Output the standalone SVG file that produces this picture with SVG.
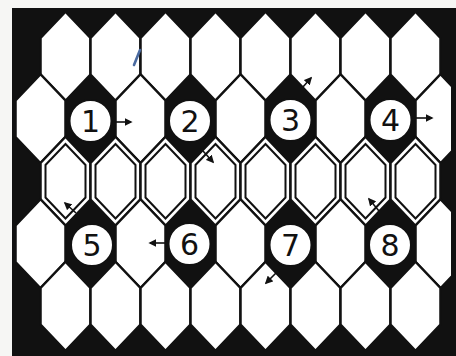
<svg xmlns="http://www.w3.org/2000/svg" xmlns:xlink="http://www.w3.org/1999/xlink" width="456" height="356" viewBox="0 0 456 356">
  <style>
    .hex { fill: #ffffff; stroke: #111111; stroke-width: 2.5; }
    .inner { fill: none; stroke: #111111; stroke-width: 2; }
    .disc { fill: #ffffff; stroke: #111111; stroke-width: 2; }
    .num { font-family: "DejaVu Sans", "Liberation Sans", sans-serif; font-size: 30px; fill: #111111; text-anchor: middle; }
    .arrow { stroke: #111111; stroke-width: 1.6; fill: none; marker-end: url(#head); }
  </style>
  <defs>
    <polygon id="h" points="0,-44.5 25,-18.25 25,18.25 0,44.5 -25,18.25 -25,-18.25"/>
    <polygon id="hi" points="0,-37.25 20,-16.25 20,16.25 0,37.25 -20,16.25 -20,-16.25"/>
    <marker id="head" viewBox="0 0 10 10" refX="8" refY="5" markerWidth="5" markerHeight="5" orient="auto" markerUnits="strokeWidth">
      <path d="M0,0 L10,5 L0,10 Z" fill="#111111"/>
    </marker>
    <clipPath id="frame"><rect x="15" y="10" width="436" height="343"/></clipPath>
  </defs>
  <rect x="0" y="0" width="456" height="356" fill="#f6f6f4"/>
  <rect x="12" y="8" width="444" height="348" fill="#111111"/>
  <g id="grid" clip-path="url(#frame)">
    <g id="rowA" transform="translate(0,56.25)">
      <use xlink:href="#h" class="hex" x="65.5"/><use xlink:href="#h" class="hex" x="115.5"/><use xlink:href="#h" class="hex" x="165.5"/><use xlink:href="#h" class="hex" x="215.5"/>
      <use xlink:href="#h" class="hex" x="265.5"/><use xlink:href="#h" class="hex" x="315.5"/><use xlink:href="#h" class="hex" x="365.5"/><use xlink:href="#h" class="hex" x="415.5"/>
    </g>
    <g id="rowB" transform="translate(0,118.75)">
      <use xlink:href="#h" class="hex" x="40.5"/><use xlink:href="#h" class="hex" x="140.5"/><use xlink:href="#h" class="hex" x="240.5"/><use xlink:href="#h" class="hex" x="340.5"/><use xlink:href="#h" class="hex" x="440.5"/>
    </g>
    <g id="rowC" transform="translate(0,181.25)">
      <use xlink:href="#h" class="hex" x="65.5"/><use xlink:href="#h" class="hex" x="115.5"/><use xlink:href="#h" class="hex" x="165.5"/><use xlink:href="#h" class="hex" x="215.5"/>
      <use xlink:href="#h" class="hex" x="265.5"/><use xlink:href="#h" class="hex" x="315.5"/><use xlink:href="#h" class="hex" x="365.5"/><use xlink:href="#h" class="hex" x="415.5"/>
      <use xlink:href="#hi" class="inner" x="65.5"/><use xlink:href="#hi" class="inner" x="115.5"/><use xlink:href="#hi" class="inner" x="165.5"/><use xlink:href="#hi" class="inner" x="215.5"/>
      <use xlink:href="#hi" class="inner" x="265.5"/><use xlink:href="#hi" class="inner" x="315.5"/><use xlink:href="#hi" class="inner" x="365.5"/><use xlink:href="#hi" class="inner" x="415.5"/>
    </g>
    <g id="rowD" transform="translate(0,243.75)">
      <use xlink:href="#h" class="hex" x="40.5"/><use xlink:href="#h" class="hex" x="140.5"/><use xlink:href="#h" class="hex" x="240.5"/><use xlink:href="#h" class="hex" x="340.5"/><use xlink:href="#h" class="hex" x="440.5"/>
    </g>
    <g id="rowE" transform="translate(0,306.25)">
      <use xlink:href="#h" class="hex" x="65.5"/><use xlink:href="#h" class="hex" x="115.5"/><use xlink:href="#h" class="hex" x="165.5"/><use xlink:href="#h" class="hex" x="215.5"/>
      <use xlink:href="#h" class="hex" x="265.5"/><use xlink:href="#h" class="hex" x="315.5"/><use xlink:href="#h" class="hex" x="365.5"/><use xlink:href="#h" class="hex" x="415.5"/>
    </g>
  </g>
  <path d="M134,65 L140,50" stroke="#4a6aa0" stroke-width="2.6" stroke-linecap="round" fill="none"/>
  <g id="node1"><circle class="disc" cx="90.5" cy="121" r="21"/><text class="num" x="90.5" y="132">1</text></g>
  <g id="node2"><circle class="disc" cx="190" cy="121" r="21"/><text class="num" x="190" y="132">2</text></g>
  <g id="node3"><circle class="disc" cx="290.5" cy="120" r="21"/><text class="num" x="290.5" y="131">3</text></g>
  <g id="node4"><circle class="disc" cx="390.5" cy="120" r="21"/><text class="num" x="390.5" y="131">4</text></g>
  <g id="node5"><circle class="disc" cx="92" cy="245" r="21"/><text class="num" x="92" y="256">5</text></g>
  <g id="node6"><circle class="disc" cx="189.5" cy="244" r="21"/><text class="num" x="189.5" y="255">6</text></g>
  <g id="node7"><circle class="disc" cx="290.5" cy="245" r="21"/><text class="num" x="290.5" y="256">7</text></g>
  <g id="node8"><circle class="disc" cx="390" cy="245" r="21"/><text class="num" x="390" y="256">8</text></g>
  <g id="connectors">
    <path class="arrow" d="M115,122 L131,122"/>
    <path class="arrow" d="M203,151 L213,162"/>
    <path class="arrow" d="M302,88 L311,78"/>
    <path class="arrow" d="M416,118 L432,118"/>
    <path class="arrow" d="M76,213 L65,203"/>
    <path class="arrow" d="M167,243 L150,243"/>
    <path class="arrow" d="M276,273 L266,283"/>
    <path class="arrow" d="M379,211 L369,199"/>
  </g>
</svg>
